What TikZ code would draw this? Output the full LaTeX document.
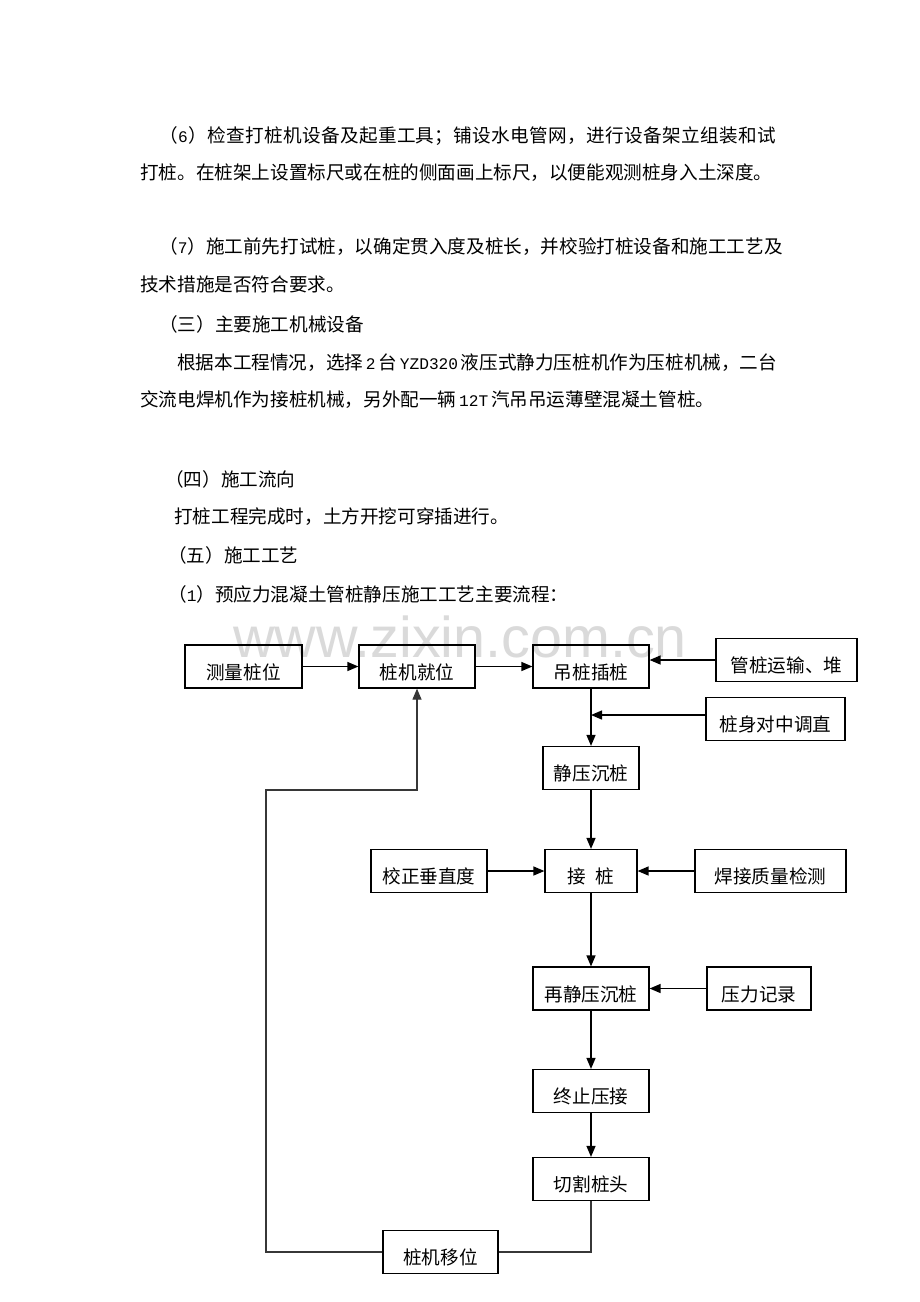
\documentclass[tikz,border=0pt]{standalone}
\usepackage{fontspec}
\setmainfont{Noto Sans CJK SC}
\newfontfamily\latf{Liberation Mono}[Scale=0.87]
\newfontfamily\wmf{Liberation Sans}
\usetikzlibrary{arrows.meta}
\definecolor{wmgray}{RGB}{218,218,218}
\definecolor{lngray}{RGB}{55,55,55}
\newcommand\lat[1]{{\latf #1}}
\makeatletter
\newcommand\spreadline[2]{\hbox to #1{\@tfor\cx:=#2\do{\cx\hfil}\unskip}}
\makeatother
\begin{document}
\begin{tikzpicture}[x=1pt,y=-1pt,
  every node/.style={font=\fontsize{18.6pt}{22pt}\selectfont},
  txt/.style={anchor=west,inner sep=0pt},
  flowbox/.style={draw,line width=1.2pt,inner xsep=0pt,inner ysep=0pt,text height=34pt,text depth=9pt,minimum width=#1},
  tip/.style={-{Triangle[length=11pt,width=9pt]}},
  arr/.style={line width=1.3pt,tip},
  ln/.style={line width=1.1pt,draw=lngray}]
\useasboundingbox (0,0) rectangle (920,1302);
\fill[white] (0,0) rectangle (920,1302);
% watermark
\node[anchor=base west,inner sep=0pt,font=\wmf\fontsize{57.5pt}{60pt}\selectfont,text=wmgray] (wm) at (233,657) {www.zixin.com.cn};
% body text
\node[txt] (l1) at (159,136) {\spreadline{617pt}{（{\lat{6}}）检查打桩机设备及起重工具；铺设水电管网，进行设备架立组装和试}};
\node[txt] (l2) at (140,173) {打桩。在桩架上设置标尺或在桩的侧面画上标尺，以便能观测桩身入土深度。};
\node[txt] (l3) at (159,247) {\spreadline{617pt}{（{\lat{7}}）施工前先打试桩，以确定贯入度及桩长，并校验打桩设备和施工工艺及}};
\node[txt] (l4) at (140,284) {技术措施是否符合要求。};
\node[txt] (l5) at (159,324) {（三）主要施工机械设备};
\node[txt] (l6) at (177,363) {\spreadline{599pt}{根据本工程情况，选择{\hspace{0.15em}\lat{2}\hspace{0.15em}}台{\hspace{0.15em}\lat{YZD320}\hspace{0.15em}}液压式静力压桩机作为压桩机械，二台}};
\node[txt] (l7) at (140,400) {交流电焊机作为接桩机械，另外配一辆\hspace{0.15em}\lat{12T}\hspace{0.15em}汽吊吊运薄壁混凝土管桩。};
\node[txt] (l8) at (165,479) {（四）施工流向};
\node[txt] (l9) at (174,517) {打桩工程完成时，土方开挖可穿插进行。};
\node[txt] (l10) at (168,555) {（五）施工工艺};
\node[txt] (l11) at (168,594) {（\lat{1}）预应力混凝土管桩静压施工工艺主要流程：};
% flow boxes
\node[flowbox=117pt] (m1) at (243.5,666.5) {测量桩位};
\node[flowbox=116pt] (m2) at (417,666.5) {桩机就位};
\node[flowbox=116pt] (m3) at (591,666.5) {吊桩插桩};
\node[flowbox=141pt] (s1) at (786.5,660) {管桩运输、堆};
\node[flowbox=139pt] (s2) at (775.5,719) {桩身对中调直};
\node[flowbox=96pt]  (m4) at (591,768) {静压沉桩};
\node[flowbox=116pt] (c1) at (429,871) {校正垂直度};
\node[flowbox=92pt]  (m5) at (591,871) {接\hspace{0.5em}桩};
\node[flowbox=151pt] (r1) at (770.5,871) {焊接质量检测};
\node[flowbox=116pt] (m6) at (591,988.5) {再静压沉桩};
\node[flowbox=104pt] (r2) at (759,988.5) {压力记录};
\node[flowbox=116pt] (m7) at (591,1091) {终止压接};
\node[flowbox=116pt] (m8) at (591,1179) {切割桩头};
\node[flowbox=115pt] (b1) at (440.5,1252) {桩机移位};
% connectors
\draw[arr] (m1) -- (m2);
\draw[arr] (m2) -- (m3);
\draw[arr] (s1.west) -- (s1.west -| m3.east);
\draw[arr] (m3) -- (m4);
\coordinate (s2in) at ([yshift=4pt]s2.west);
\draw[arr] (s2in) -- (s2in -| m3.south);
\draw[arr] (m4) -- (m5);
\draw[arr] (c1) -- (m5);
\draw[arr] (r1) -- (m5);
\draw[arr] (m5) -- (m6);
\draw[arr] (r2) -- (m6);
\draw[arr] (m6) -- (m7);
\draw[arr] (m7) -- (m8);
\draw[ln] (m8.south) |- (b1.east);
\coordinate (turn) at (266,790);
\draw[ln,tip] (b1.west) -| (turn) -| (m2.south);
\end{tikzpicture}
\end{document}
